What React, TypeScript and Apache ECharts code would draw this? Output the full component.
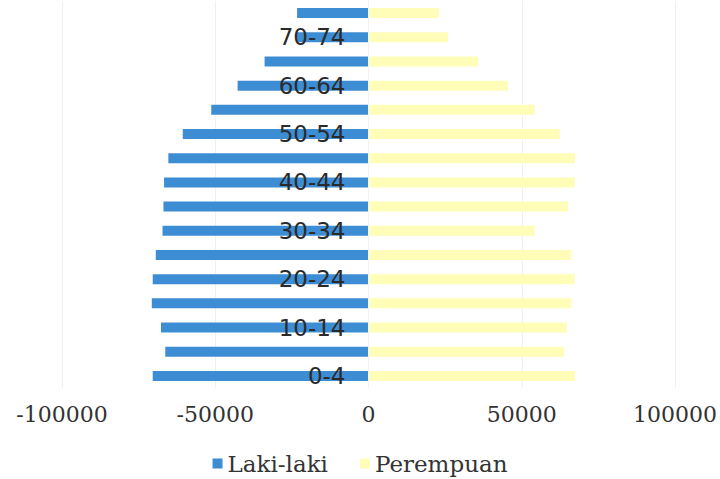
import React, { useEffect, useRef } from "react";
import * as echarts from "echarts";

const categories = [
  "0-4", "5-9", "10-14", "15-19", "20-24", "25-29", "30-34", "35-39",
  "40-44", "45-49", "50-54", "55-59", "60-64", "65-69", "70-74", "75+",
];
const lakiLaki = [
  -70400, -66300, -67700, -70700, -70400, -69400, -67200, -66900,
  -66700, -65300, -60600, -51300, -42700, -33900, -23500, -23300,
];
const perempuan = [
  67300, 63800, 64700, 66200, 67300, 66200, 54200, 65100,
  67300, 67400, 62400, 54200, 45500, 35700, 25900, 23000,
];
const xTicks = { min: -100000, max: 100000, interval: 50000 };

export default function App() {
  const ref = useRef<HTMLDivElement>(null);
  useEffect(() => {
    if (!ref.current) return;
    const chart = echarts.init(ref.current, null, { renderer: "svg" });
    const gridLeft = 62;
    const gridRight = 45;
    const plotWidth = 720 - gridLeft - gridRight;
    const zeroOffset = (plotWidth * (0 - xTicks.min)) / (xTicks.max - xTicks.min);
    chart.setOption({
      animation: false,
      backgroundColor: "#ffffff",
      grid: { left: gridLeft, right: gridRight, top: 1, bottom: 91, outerBoundsMode: "none" },
      legend: {
        top: 452,
        left: "center",
        padding: 0,
        itemWidth: 10,
        itemHeight: 10,
        itemGap: 32,
        icon: "rect",
        textStyle: { fontFamily: "DejaVu Serif", fontSize: 23, color: "#333333" },
        data: ["Laki-laki", "Perempuan"],
      },
      xAxis: {
        type: "value",
        min: xTicks.min,
        max: xTicks.max,
        interval: xTicks.interval,
        axisLine: { show: false },
        axisTick: { show: false },
        splitLine: { show: true, lineStyle: { color: "#f0f0f0", width: 1 } },
        axisLabel: {
          margin: 15,
          fontFamily: "DejaVu Serif",
          fontSize: 22,
          color: "#333333",
          formatter: (v: number) => String(v),
        },
      },
      yAxis: {
        type: "category",
        data: categories,
        z: 10,
        offset: -zeroOffset,
        axisLine: { show: true, onZero: false, lineStyle: { color: "#f2f2f2" } },
        axisTick: { show: false },
        axisLabel: {
          interval: 1,
          margin: 23,
          fontFamily: "DejaVu Sans",
          fontSize: 23,
          color: "#2a2a2a",
        },
      },
      series: [
        {
          name: "Laki-laki",
          type: "bar",
          data: lakiLaki,
          barWidth: 10,
          barGap: "-100%",
          itemStyle: { color: "#3c8dd4" },
        },
        {
          name: "Perempuan",
          type: "bar",
          data: perempuan,
          barWidth: 10,
          barGap: "-100%",
          itemStyle: { color: "#fffdb8" },
        },
      ],
    });
    return () => chart.dispose();
  }, []);
  return (
    <div
      ref={ref}
      style={{ position: "fixed", top: 0, left: 0, width: 720, height: 479 }}
    />
  );
}
